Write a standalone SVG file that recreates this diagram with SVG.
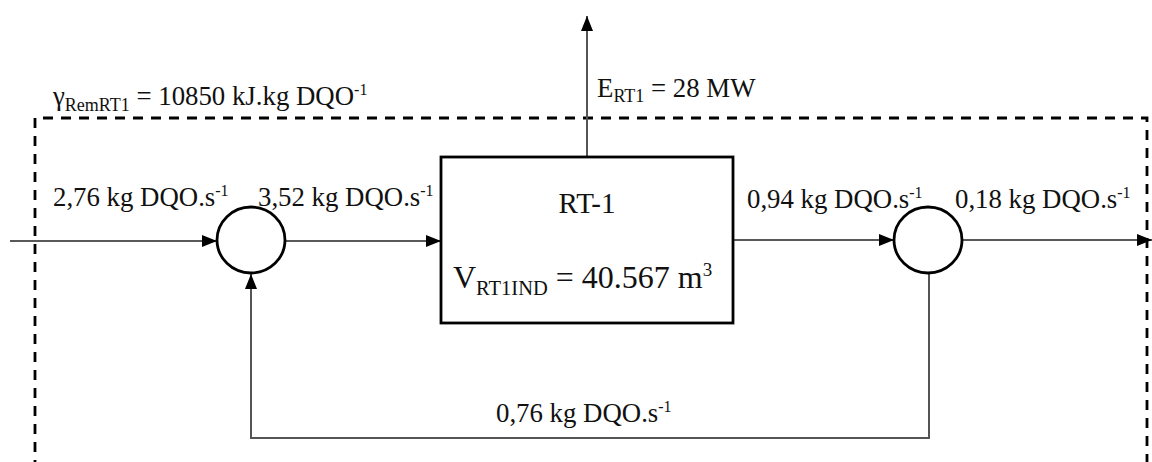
<svg xmlns="http://www.w3.org/2000/svg" width="1152" height="462" viewBox="0 0 1152 462" font-family="'Liberation Serif', 'Times New Roman', serif">
<style>
.lbl{font-size:26.8px;}
.sub{font-size:18px;}
.sup{font-size:16px;}
.conn{fill:none;stroke:#222;stroke-width:1.6;}
.fb{fill:none;stroke:#555;stroke-width:2;}
.node{fill:#fff;stroke:#000;stroke-width:2.8;}
.bound{fill:none;stroke:#000;stroke-width:2.8;stroke-dasharray:10 8;}
</style>
<defs>
<marker id="ah" markerWidth="15" markerHeight="12" refX="15" refY="6" orient="auto" markerUnits="userSpaceOnUse">
<path d="M0,0 L15,6 L0,12 Z" fill="#000"/>
</marker>
</defs>
<rect width="1152" height="462" fill="#fff"/>

<g id="boundary">
<path class="bound" d="M35,470 V118 H1147 V470"/>
<text class="lbl" x="53" y="105" fill="#111">γ<tspan class="sub" dy="6">RemRT1</tspan><tspan dy="-6"> = 10850 kJ.kg DQO</tspan><tspan class="sup" dy="-10">-1</tspan></text>
</g>

<g id="connectors" fill="#111">
<line class="conn" x1="10" y1="241" x2="217" y2="241" marker-end="url(#ah)"/>
<line class="conn" x1="285" y1="241" x2="441" y2="241" marker-end="url(#ah)"/>
<line class="conn" x1="733" y1="240" x2="894" y2="240" marker-end="url(#ah)"/>
<line class="conn" x1="962" y1="240" x2="1152" y2="240" marker-end="url(#ah)"/>
<line class="fb" x1="587" y1="157" x2="587" y2="16" marker-end="url(#ah)"/>
<path class="fb" d="M929,273 V438 H251 V274" marker-end="url(#ah)"/>
<text class="lbl" x="53" y="206">2,76 kg DQO.s<tspan class="sup" dy="-10">-1</tspan></text>
<text class="lbl" x="258" y="206">3,52 kg DQO.s<tspan class="sup" dy="-10">-1</tspan></text>
<text class="lbl" x="747" y="208">0,94 kg DQO.s<tspan class="sup" dy="-10">-1</tspan></text>
<text class="lbl" x="955" y="208">0,18 kg DQO.s<tspan class="sup" dy="-10">-1</tspan></text>
<text class="lbl" x="496" y="422">0,76 kg DQO.s<tspan class="sup" dy="-10">-1</tspan></text>
<text class="lbl" x="597" y="97">E<tspan class="sub" dy="5">RT1</tspan><tspan dy="-5"> = 28 MW</tspan></text>
</g>

<g id="mixer">
<ellipse class="node" cx="251" cy="240" rx="34" ry="33"/>
</g>

<g id="reactor">
<rect class="node" x="441" y="157" width="292" height="166"/>
<text x="587" y="213" font-size="29" text-anchor="middle" fill="#111">RT-1</text>
<text x="453" y="288" font-size="32" fill="#111">V<tspan font-size="20.5" dy="7">RT1IND</tspan><tspan dy="-7"> = 40.567 m</tspan><tspan font-size="19" dy="-12">3</tspan></text>
</g>

<g id="splitter">
<ellipse class="node" cx="928" cy="240" rx="34" ry="33"/>
</g>
</svg>
